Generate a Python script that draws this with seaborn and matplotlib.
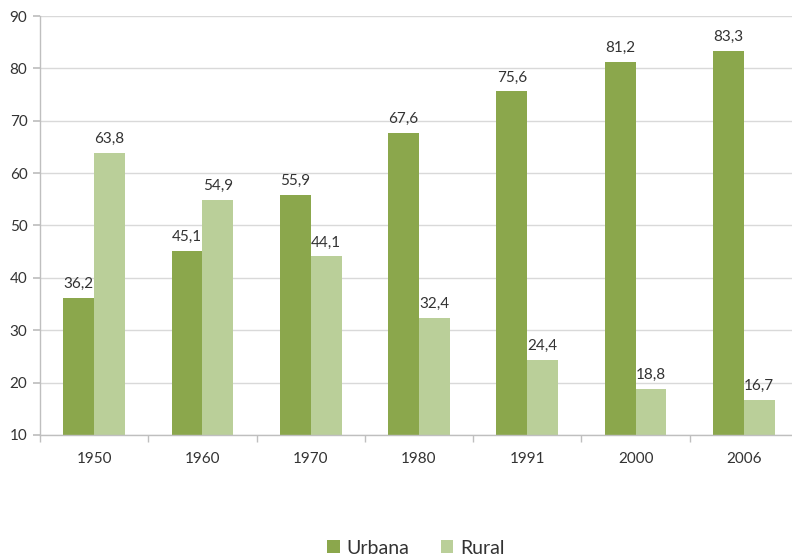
import matplotlib
matplotlib.use("Agg")
import matplotlib.pyplot as plt
import seaborn as sns
import pandas as pd

years = ["1950", "1960", "1970", "1980", "1991", "2000", "2006"]
urbana = [36.2, 45.1, 55.9, 67.6, 75.6, 81.2, 83.3]
rural = [63.8, 54.9, 44.1, 32.4, 24.4, 18.8, 16.7]
series = ["Urbana", "Rural"]
colors = ["#8BA74C", "#BACF99"]

df = pd.DataFrame({
    "year": years * 2,
    "value": urbana + rural,
    "serie": [series[0]] * len(years) + [series[1]] * len(years),
})

sns.set_theme(style="white")
plt.rcParams["font.family"] = ["Lato", "DejaVu Sans"]

fig = plt.figure(figsize=(7.92, 5.58), dpi=100)
W, H = 792, 558
ax = fig.add_axes([40 / W, (H - 435) / H, 758 / W, (435 - 16) / H])

sns.barplot(data=df, x="year", y="value", hue="serie", palette=colors,
            width=0.57, ax=ax, legend=False, saturation=1, linewidth=0,
            edgecolor="none")

ax.set_ylim(10, 90)
ax.set_yticks(range(10, 91, 10))
ax.set_xlim(-0.5, len(years) - 0.5)
ax.grid(axis="y", color="#D9D9D9", linewidth=1)
ax.set_axisbelow(True)
for s in ["top", "right"]:
    ax.spines[s].set_visible(False)
for s in ["left", "bottom"]:
    ax.spines[s].set_color("#BFBFBF")
    ax.spines[s].set_linewidth(1)
ax.set_xlabel("")
ax.set_ylabel("")
ax.tick_params(axis="y", length=5, color="#BFBFBF", labelsize=11, labelcolor="#333333", pad=4, left=True)
ax.tick_params(axis="x", length=0, labelsize=11, labelcolor="#333333", pad=12)
ax.set_xticks([i - 0.5 for i in range(len(years) + 1)], minor=True)
ax.tick_params(axis="x", which="minor", length=5, color="#BFBFBF", bottom=True)

for cont in ax.containers:
    labels = [f"{v:.1f}".replace(".", ",") for v in cont.datavalues]
    ax.bar_label(cont, labels=labels, padding=5, fontsize=11, color="#333333")

from matplotlib.patches import Patch
handles = [Patch(facecolor=c, edgecolor="none") for c in colors]
fig.legend(handles, series, loc="center", bbox_to_anchor=(416 / W, 1 - 548 / H),
           ncol=2, frameon=False, fontsize=14, handlelength=0.65, handleheight=0.65,
           columnspacing=1.6, handletextpad=0.35, labelcolor="#333333")

fig.savefig("out.png", dpi=100)
